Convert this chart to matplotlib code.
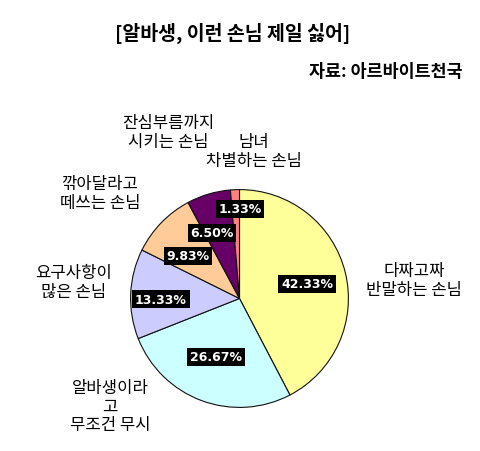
import matplotlib
matplotlib.use("Agg")
import matplotlib.pyplot as plt

plt.rcParams['font.family'] = ['Noto Sans CJK KR', 'DejaVu Sans']

# ---- data ----
categories = ["다짜고짜\n반말하는 손님", "알바생이라\n고\n무조건 무시", "요구사항이\n많은 손님",
              "깎아달라고\n떼쓰는 손님", "잔심부름까지\n시키는 손님", "남녀\n차별하는 손님"]
values = [42.33, 26.67, 13.33, 9.83, 6.50, 1.33]
title = "[알바생, 이런 손님 제일 싫어]"
source = "자료: 아르바이트천국"

# ---- style / layout ----
colors = ["#FFFF99", "#CCFFFF", "#CCCCFF", "#FFCC99", "#660066", "#FF8080"]
W, H = 480, 452
cat_pos = [(414, 281), (110, 407), (74, 283), (100, 194), (168, 133), (254, 152)]
pct_pos = [(307, 285), (216, 358), (161, 300), (188, 257), (212, 234), (240, 210)]

fig = plt.figure(figsize=(W / 100, H / 100), dpi=100)
fig.patch.set_facecolor("white")

def fx(x):
    return x / W

def fy(y):
    return 1 - y / H

cx, cy, r = 239.5, 299.5, 110
ax = fig.add_axes([fx(cx - r), fy(cy + r), 2 * r / W, 2 * r / H])
ax.pie(values, colors=colors, startangle=90, counterclock=False, radius=1,
       wedgeprops=dict(edgecolor="#111111", linewidth=0.8))
ax.set_xlim(-1.01, 1.01)
ax.set_ylim(-1.01, 1.01)
ax.set_aspect("equal")
ax.axis("off")

fig.text(fx(233), fy(33), title, ha="center", va="center", fontsize=14,
         fontweight="bold")
fig.text(fx(463), fy(72), source, ha="right", va="center", fontsize=12.5,
         fontweight="bold")

for lab, (x, y) in zip(categories, cat_pos):
    fig.text(fx(x), fy(y), lab, ha="center", va="center", fontsize=12,
             linespacing=1.1, color="black")

for v, (x, y) in zip(values, pct_pos):
    fig.text(fx(x), fy(y), f"{v:.2f}%", ha="center", va="center", fontsize=9,
             fontweight="bold", color="white", family="DejaVu Sans",
             bbox=dict(facecolor="black", edgecolor="none", pad=2))

fig.savefig("out.png", dpi=100)
